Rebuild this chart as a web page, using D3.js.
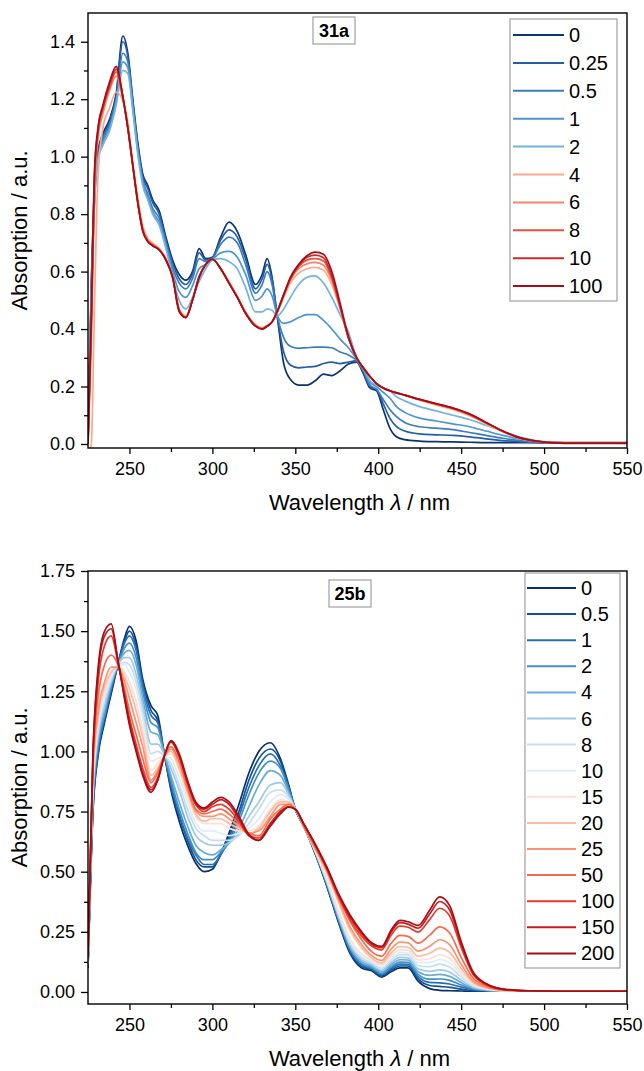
<!DOCTYPE html>
<html>
<head>
<meta charset="utf-8">
<script src="https://cdn.jsdelivr.net/npm/d3@7"></script>
<style>
body { margin: 0; background: #fff; }
svg text { font-family: "Liberation Sans", Arial, sans-serif; fill: #000; }
</style>
</head>
<body>
<svg id="chart" width="644" height="1071"></svg>
<script>
// ---------- panel 31a (top) ----------
var wlA = [225, 227, 229, 231, 234, 238, 242, 246, 249, 252,
  255, 258, 261, 264, 268, 272, 276, 280, 284, 288,
  292, 296, 300, 305, 310, 315, 320, 326, 330, 333,
  336, 339, 343, 347, 352, 357, 362, 367, 372, 377,
  382, 387, 391, 395, 399, 403, 407, 411, 416, 425,
  435, 445, 455, 465, 475, 485, 495, 505, 520, 550];

var labelsA = ["0", "0.25", "0.5", "1", "2", "4", "6", "8", "10", "100"];
var colorsA = ["#0c3473", "#245ea6", "#3a7dc0", "#4d95d0", "#74b3e0", "#fba88c", "#f6846a", "#e9503e", "#cf2a28", "#a30f16"];

var a0 = [0.02, 0.55, 0.90, 1.02, 1.08, 1.13, 1.22, 1.42, 1.36, 1.20,
  1.05, 0.94, 0.90, 0.85, 0.81, 0.72, 0.64, 0.59, 0.57, 0.60,
  0.68, 0.645, 0.65, 0.72, 0.772, 0.74, 0.66, 0.555, 0.59, 0.645,
  0.58, 0.45, 0.28, 0.225, 0.205, 0.205, 0.22, 0.243, 0.238, 0.255,
  0.278, 0.285, 0.245, 0.195, 0.185, 0.12, 0.055, 0.025, 0.015, 0.01,
  0.008, 0.007, 0.006, 0.005, 0.005, 0.005, 0.005, 0.005, 0.005, 0.005];
var a025 = [0.02, 0.55, 0.88, 1.01, 1.07, 1.12, 1.21, 1.40, 1.35, 1.19,
  1.04, 0.93, 0.89, 0.84, 0.80, 0.71, 0.63, 0.575, 0.555, 0.59,
  0.665, 0.64, 0.648, 0.71, 0.745, 0.72, 0.645, 0.54, 0.575, 0.625,
  0.57, 0.45, 0.32, 0.275, 0.265, 0.268, 0.27, 0.28, 0.285, 0.28,
  0.285, 0.29, 0.25, 0.20, 0.19, 0.14, 0.09, 0.06, 0.045, 0.035,
  0.032, 0.03, 0.025, 0.018, 0.012, 0.008, 0.005, 0.004, 0.004, 0.004];
var a05 = [0.02, 0.50, 0.86, 1.00, 1.06, 1.11, 1.20, 1.36, 1.33, 1.18,
  1.03, 0.92, 0.87, 0.82, 0.785, 0.70, 0.615, 0.56, 0.54, 0.575,
  0.645, 0.635, 0.645, 0.695, 0.72, 0.70, 0.625, 0.525, 0.555, 0.60,
  0.555, 0.45, 0.37, 0.34, 0.333, 0.335, 0.337, 0.337, 0.335, 0.32,
  0.31, 0.29, 0.255, 0.205, 0.19, 0.155, 0.12, 0.095, 0.075, 0.06,
  0.055, 0.05, 0.04, 0.03, 0.02, 0.012, 0.006, 0.004, 0.004, 0.004];
var a1 = [0.02, 0.50, 0.85, 0.99, 1.05, 1.10, 1.19, 1.33, 1.31, 1.17,
  1.02, 0.91, 0.86, 0.81, 0.77, 0.69, 0.60, 0.53, 0.51, 0.55,
  0.61, 0.625, 0.642, 0.665, 0.67, 0.65, 0.59, 0.50, 0.515, 0.54,
  0.515, 0.45, 0.42, 0.425, 0.44, 0.45, 0.45, 0.43, 0.40, 0.365,
  0.335, 0.295, 0.26, 0.215, 0.20, 0.18, 0.16, 0.13, 0.11, 0.09,
  0.08, 0.07, 0.06, 0.045, 0.03, 0.018, 0.009, 0.005, 0.004, 0.004];
var a2 = [0.02, 0.50, 0.85, 0.99, 1.04, 1.09, 1.18, 1.30, 1.29, 1.16,
  1.01, 0.90, 0.85, 0.80, 0.76, 0.68, 0.58, 0.50, 0.47, 0.51,
  0.565, 0.61, 0.64, 0.645, 0.635, 0.61, 0.545, 0.46, 0.46, 0.47,
  0.465, 0.445, 0.47, 0.51, 0.555, 0.58, 0.585, 0.56, 0.51, 0.45,
  0.39, 0.30, 0.265, 0.22, 0.205, 0.195, 0.185, 0.165, 0.15, 0.13,
  0.115, 0.10, 0.085, 0.065, 0.045, 0.025, 0.012, 0.006, 0.004, 0.004];
var a4 = [-0.05, 0.0, 0.5, 0.93, 1.10, 1.17, 1.225, 1.195, 1.12, 0.98,
  0.86, 0.76, 0.715, 0.70, 0.68, 0.645, 0.585, 0.47, 0.445, 0.505,
  0.585, 0.625, 0.642, 0.61, 0.565, 0.515, 0.46, 0.415, 0.405, 0.412,
  0.425, 0.455, 0.51, 0.56, 0.595, 0.61, 0.615, 0.605, 0.555, 0.47,
  0.37, 0.30, 0.265, 0.235, 0.21, 0.195, 0.185, 0.178, 0.17, 0.152,
  0.135, 0.12, 0.098, 0.07, 0.042, 0.02, 0.009, 0.005, 0.004, 0.004];
var a6 = [0.0, 0.35, 0.90, 1.06, 1.15, 1.23, 1.28, 1.20, 1.10, 0.97,
  0.845, 0.75, 0.71, 0.695, 0.678, 0.642, 0.582, 0.467, 0.442, 0.502,
  0.582, 0.625, 0.643, 0.61, 0.562, 0.512, 0.457, 0.412, 0.402, 0.41,
  0.425, 0.458, 0.515, 0.57, 0.61, 0.627, 0.632, 0.622, 0.568, 0.475,
  0.37, 0.30, 0.265, 0.235, 0.21, 0.195, 0.185, 0.178, 0.17, 0.154,
  0.138, 0.123, 0.102, 0.073, 0.044, 0.021, 0.01, 0.005, 0.004, 0.004];
var a8 = [0.0, 0.40, 0.93, 1.08, 1.17, 1.24, 1.295, 1.205, 1.10, 0.97,
  0.842, 0.745, 0.707, 0.692, 0.676, 0.641, 0.581, 0.465, 0.441, 0.501,
  0.581, 0.625, 0.643, 0.61, 0.561, 0.511, 0.456, 0.411, 0.401, 0.41,
  0.425, 0.459, 0.518, 0.574, 0.618, 0.64, 0.645, 0.637, 0.578, 0.478,
  0.37, 0.30, 0.265, 0.235, 0.21, 0.195, 0.185, 0.178, 0.17, 0.155,
  0.139, 0.124, 0.103, 0.074, 0.045, 0.022, 0.01, 0.005, 0.004, 0.004];
var a10 = [0.0, 0.43, 0.95, 1.09, 1.17, 1.25, 1.305, 1.21, 1.10, 0.97,
  0.84, 0.745, 0.705, 0.69, 0.675, 0.64, 0.58, 0.465, 0.44, 0.50,
  0.58, 0.625, 0.643, 0.61, 0.56, 0.51, 0.455, 0.41, 0.40, 0.41,
  0.425, 0.46, 0.52, 0.575, 0.62, 0.65, 0.657, 0.648, 0.585, 0.48,
  0.37, 0.30, 0.265, 0.235, 0.21, 0.195, 0.185, 0.178, 0.17, 0.155,
  0.14, 0.125, 0.104, 0.075, 0.045, 0.022, 0.01, 0.005, 0.004, 0.004];
var a100 = [0.0, 0.45, 0.96, 1.10, 1.18, 1.26, 1.314, 1.21, 1.10, 0.97,
  0.84, 0.74, 0.705, 0.69, 0.675, 0.64, 0.58, 0.46, 0.44, 0.50,
  0.58, 0.625, 0.643, 0.61, 0.56, 0.51, 0.455, 0.41, 0.40, 0.41,
  0.425, 0.46, 0.52, 0.58, 0.625, 0.655, 0.668, 0.66, 0.60, 0.49,
  0.375, 0.30, 0.265, 0.235, 0.21, 0.195, 0.185, 0.178, 0.17, 0.155,
  0.14, 0.125, 0.105, 0.075, 0.045, 0.022, 0.01, 0.004, 0.002, 0.002];

// ---------- panel 25b (bottom) ----------
var wlB = [225, 228, 231, 235, 239, 243, 247, 250, 254, 258,
  263, 267, 271, 275, 280, 285, 290, 295, 300, 305,
  310, 316, 322, 328, 335, 341, 346, 350, 355, 362,
  369, 376, 383, 390, 396, 402, 408, 413, 418, 424,
  431, 437, 443, 450, 457, 465, 475, 490, 510, 550];

var labelsB = ["0", "0.5", "1", "2", "4", "6", "8", "10", "15", "20", "25", "50", "100", "150", "200"];
var colorsB = ["#08306b", "#0f519b", "#2470b4", "#4090c6", "#6aabd7", "#9dcae4", "#c6def0", "#deedf8",
  "#fde0d3", "#fcbba2", "#fb9373", "#f96a4b", "#e83a2c", "#c9191e", "#a30f15"];

var b0 = [0.10, 0.75, 0.98, 1.12, 1.24, 1.36, 1.47, 1.52, 1.46, 1.30,
  1.19, 1.15, 0.99, 0.84, 0.71, 0.61, 0.535, 0.50, 0.51, 0.575,
  0.66, 0.78, 0.91, 1.0, 1.036, 0.97, 0.86, 0.76, 0.69, 0.575,
  0.44, 0.29, 0.16, 0.10, 0.088, 0.062, 0.085, 0.10, 0.10, 0.045,
  0.014, 0.007, 0.005, 0.004, 0.003, 0.003, 0.003, 0.003, 0.003, 0.003];
var b05 = [0.10, 0.76, 0.99, 1.13, 1.25, 1.36, 1.46, 1.50, 1.44, 1.29,
  1.17, 1.13, 0.99, 0.85, 0.73, 0.63, 0.55, 0.52, 0.52, 0.57,
  0.645, 0.75, 0.88, 0.97, 1.01, 0.96, 0.85, 0.76, 0.69, 0.577,
  0.443, 0.295, 0.166, 0.106, 0.093, 0.067, 0.092, 0.108, 0.108, 0.054,
  0.027, 0.023, 0.019, 0.012, 0.006, 0.004, 0.003, 0.003, 0.003, 0.003];
var b1 = [0.10, 0.77, 1.00, 1.14, 1.26, 1.36, 1.45, 1.48, 1.42, 1.27,
  1.15, 1.12, 0.99, 0.86, 0.74, 0.64, 0.57, 0.53, 0.53, 0.57,
  0.63, 0.73, 0.85, 0.94, 0.99, 0.94, 0.85, 0.76, 0.69, 0.578,
  0.446, 0.30, 0.173, 0.112, 0.097, 0.072, 0.099, 0.116, 0.115, 0.064,
  0.040, 0.038, 0.033, 0.020, 0.010, 0.006, 0.004, 0.003, 0.003, 0.003];
var b2 = [0.11, 0.79, 1.02, 1.15, 1.27, 1.36, 1.43, 1.45, 1.39, 1.25,
  1.12, 1.10, 0.99, 0.88, 0.76, 0.66, 0.58, 0.55, 0.55, 0.58,
  0.62, 0.71, 0.82, 0.91, 0.96, 0.93, 0.84, 0.76, 0.69, 0.58,
  0.45, 0.304, 0.179, 0.118, 0.102, 0.077, 0.106, 0.124, 0.123, 0.073,
  0.053, 0.054, 0.048, 0.029, 0.013, 0.007, 0.004, 0.003, 0.003, 0.003];
var b4 = [0.11, 0.81, 1.04, 1.17, 1.28, 1.36, 1.41, 1.42, 1.36, 1.22,
  1.08, 1.07, 0.99, 0.90, 0.79, 0.69, 0.61, 0.58, 0.57, 0.59,
  0.62, 0.68, 0.77, 0.86, 0.92, 0.90, 0.83, 0.76, 0.69, 0.582,
  0.454, 0.31, 0.187, 0.126, 0.108, 0.084, 0.115, 0.134, 0.133, 0.084,
  0.069, 0.073, 0.065, 0.039, 0.017, 0.008, 0.005, 0.003, 0.003, 0.003];
var b6 = [0.12, 0.83, 1.06, 1.19, 1.29, 1.36, 1.39, 1.39, 1.32, 1.19,
  1.03, 1.03, 0.99, 0.93, 0.84, 0.73, 0.65, 0.62, 0.61, 0.61,
  0.62, 0.66, 0.73, 0.79, 0.86, 0.87, 0.82, 0.76, 0.69, 0.584,
  0.458, 0.316, 0.195, 0.133, 0.114, 0.09, 0.124, 0.144, 0.142, 0.096,
  0.086, 0.092, 0.083, 0.049, 0.021, 0.01, 0.005, 0.003, 0.003, 0.003];
var b8 = [0.12, 0.85, 1.08, 1.21, 1.30, 1.36, 1.37, 1.36, 1.29, 1.16,
  0.99, 1.0, 0.98, 0.95, 0.86, 0.76, 0.68, 0.65, 0.63, 0.63,
  0.63, 0.65, 0.70, 0.76, 0.83, 0.84, 0.81, 0.76, 0.69, 0.586,
  0.462, 0.324, 0.205, 0.142, 0.121, 0.098, 0.134, 0.155, 0.154, 0.11,
  0.105, 0.116, 0.104, 0.062, 0.026, 0.012, 0.006, 0.004, 0.003, 0.003];
var b10 = [0.12, 0.87, 1.10, 1.23, 1.31, 1.36, 1.36, 1.33, 1.26, 1.13,
  0.96, 0.97, 0.98, 0.97, 0.89, 0.79, 0.70, 0.67, 0.67, 0.66,
  0.65, 0.66, 0.68, 0.72, 0.79, 0.82, 0.80, 0.76, 0.69, 0.588,
  0.466, 0.33, 0.213, 0.15, 0.127, 0.104, 0.143, 0.165, 0.163, 0.122,
  0.122, 0.135, 0.122, 0.072, 0.030, 0.014, 0.006, 0.004, 0.003, 0.003];
var b15 = [0.13, 0.89, 1.12, 1.25, 1.32, 1.35, 1.33, 1.29, 1.21, 1.09,
  0.92, 0.95, 0.98, 0.99, 0.92, 0.81, 0.73, 0.70, 0.70, 0.70,
  0.68, 0.67, 0.67, 0.69, 0.76, 0.80, 0.79, 0.76, 0.69, 0.59,
  0.47, 0.336, 0.221, 0.157, 0.132, 0.111, 0.152, 0.175, 0.173, 0.133,
  0.138, 0.154, 0.14, 0.082, 0.034, 0.015, 0.006, 0.004, 0.003, 0.003];
var b20 = [0.13, 0.91, 1.14, 1.27, 1.33, 1.35, 1.31, 1.26, 1.17, 1.06,
  0.90, 0.93, 0.98, 1.0, 0.93, 0.83, 0.74, 0.71, 0.72, 0.72,
  0.70, 0.68, 0.66, 0.68, 0.75, 0.79, 0.79, 0.76, 0.69, 0.593,
  0.496, 0.374, 0.257, 0.183, 0.141, 0.12, 0.164, 0.189, 0.186, 0.149,
  0.161, 0.182, 0.165, 0.097, 0.04, 0.017, 0.007, 0.004, 0.003, 0.003];
var b25 = [0.13, 0.93, 1.16, 1.29, 1.35, 1.35, 1.29, 1.22, 1.12, 1.02,
  0.88, 0.92, 0.98, 1.01, 0.95, 0.84, 0.75, 0.73, 0.73, 0.74,
  0.72, 0.69, 0.66, 0.67, 0.73, 0.78, 0.78, 0.76, 0.69, 0.597,
  0.503, 0.385, 0.271, 0.196, 0.151, 0.131, 0.18, 0.207, 0.204, 0.17,
  0.19, 0.217, 0.197, 0.115, 0.047, 0.02, 0.008, 0.004, 0.003, 0.003];
var b50 = [0.14, 0.95, 1.22, 1.36, 1.40, 1.36, 1.26, 1.17, 1.07, 0.97,
  0.87, 0.91, 0.98, 1.02, 0.96, 0.85, 0.76, 0.74, 0.75, 0.76,
  0.74, 0.70, 0.66, 0.65, 0.72, 0.76, 0.78, 0.76, 0.69, 0.602,
  0.514, 0.402, 0.294, 0.217, 0.168, 0.149, 0.204, 0.235, 0.231, 0.203,
  0.236, 0.271, 0.246, 0.144, 0.059, 0.025, 0.009, 0.004, 0.003, 0.003];
var b100 = [0.14, 0.97, 1.28, 1.44, 1.48, 1.37, 1.24, 1.14, 1.03, 0.93,
  0.85, 0.89, 0.98, 1.04, 0.98, 0.87, 0.78, 0.75, 0.77, 0.78,
  0.76, 0.71, 0.65, 0.64, 0.70, 0.75, 0.77, 0.76, 0.70, 0.61,
  0.51, 0.396, 0.301, 0.232, 0.191, 0.175, 0.239, 0.274, 0.269, 0.249,
  0.301, 0.348, 0.317, 0.185, 0.075, 0.031, 0.011, 0.005, 0.003, 0.003];
var b150 = [0.15, 0.99, 1.32, 1.48, 1.51, 1.38, 1.23, 1.12, 1.01, 0.91,
  0.84, 0.88, 0.98, 1.04, 0.98, 0.87, 0.78, 0.76, 0.78, 0.80,
  0.78, 0.72, 0.65, 0.63, 0.70, 0.75, 0.77, 0.76, 0.70, 0.613,
  0.516, 0.404, 0.312, 0.243, 0.199, 0.184, 0.251, 0.288, 0.282, 0.265,
  0.324, 0.376, 0.342, 0.20, 0.081, 0.033, 0.012, 0.005, 0.003, 0.003];
var b200 = [0.15, 1.00, 1.34, 1.50, 1.53, 1.38, 1.22, 1.11, 1.00, 0.90,
  0.83, 0.88, 0.98, 1.045, 0.99, 0.88, 0.79, 0.765, 0.79, 0.809,
  0.79, 0.73, 0.655, 0.63, 0.69, 0.74, 0.768, 0.76, 0.70, 0.615,
  0.52, 0.41, 0.32, 0.25, 0.205, 0.19, 0.26, 0.298, 0.292, 0.277,
  0.34, 0.395, 0.36, 0.21, 0.085, 0.035, 0.012, 0.005, 0.003, 0.003];

var xMajor = [250, 300, 350, 400, 450, 500, 550];
var xMinor = [275, 325, 375, 425, 475, 525];

var svg = d3.select("#chart");

function drawPanel(p) {
  var x = d3.scaleLinear().domain([225, 550]).range([p.left, p.right]);
  var y = d3.scaleLinear().domain(p.yDomain).range([p.bottom, p.top]);
  var g = svg.append("g");

  g.append("clipPath").attr("id", "clip" + p.id)
    .append("rect")
    .attr("x", p.left).attr("y", p.top)
    .attr("width", p.right - p.left).attr("height", p.bottom - p.top);

  var line = d3.line()
    .x(function (d, i) { return x(p.wl[i]); })
    .y(function (d) { return y(d); })
    .curve(d3.curveMonotoneX);

  var curves = g.append("g").attr("clip-path", "url(#clip" + p.id + ")");
  p.values.forEach(function (vals, k) {
    curves.append("path")
      .attr("d", line(vals))
      .attr("fill", "none")
      .attr("stroke", p.colors[k])
      .attr("stroke-width", 1.7)
      .attr("stroke-linejoin", "round");
  });

  // axes (ticks outward)
  var xAx = g.append("g").attr("transform", "translate(0," + p.bottom + ")")
    .call(d3.axisBottom(x).tickValues(xMajor).tickSize(6).tickPadding(8).tickFormat(d3.format("d")));
  g.append("g").attr("transform", "translate(0," + p.bottom + ")")
    .call(d3.axisBottom(x).tickValues(xMinor).tickSize(4).tickFormat(""));
  var yAx = g.append("g").attr("transform", "translate(" + p.left + ",0)")
    .call(d3.axisLeft(y).tickValues(p.yMajor).tickSize(7).tickPadding(6).tickFormat(d3.format(p.yFmt)));
  g.append("g").attr("transform", "translate(" + p.left + ",0)")
    .call(d3.axisLeft(y).tickValues(p.yMinor).tickSize(4).tickFormat(""));

  g.selectAll(".domain").remove();
  g.selectAll(".tick line").attr("stroke", "#000").attr("stroke-width", 1.3);
  g.selectAll(".tick text")
    .attr("font-size", 18)
    .style("font-family", "'Liberation Sans', Arial, sans-serif")
    .attr("fill", "#000");

  // frame
  g.append("rect")
    .attr("x", p.left).attr("y", p.top)
    .attr("width", p.right - p.left).attr("height", p.bottom - p.top)
    .attr("fill", "none").attr("stroke", "#000").attr("stroke-width", 1.4);

  // axis titles
  var xt = g.append("text")
    .attr("x", (p.left + p.right) / 2 + 2)
    .attr("y", p.bottom + 62)
    .attr("text-anchor", "middle")
    .attr("font-size", 22);
  xt.append("tspan").text("Wavelength ");
  xt.append("tspan").attr("font-style", "italic").text("λ");
  xt.append("tspan").text(" / nm");

  g.append("text")
    .attr("transform", "translate(27," + ((p.top + p.bottom) / 2) + ") rotate(-90)")
    .attr("text-anchor", "middle")
    .attr("font-size", 22)
    .text("Absorption / a.u.");

  // compound label box
  var tb = p.titleBox;
  g.append("rect")
    .attr("x", tb[0]).attr("y", tb[1]).attr("width", tb[2]).attr("height", tb[3])
    .attr("fill", "#fff").attr("stroke", "#a0a0a0").attr("stroke-width", 1.2);
  g.append("text")
    .attr("x", tb[0] + tb[2] / 2).attr("y", tb[1] + tb[3] / 2 + 6.5)
    .attr("text-anchor", "middle")
    .attr("font-size", 18).attr("font-weight", "bold")
    .text(p.title);

  // legend
  var L = p.legend;
  g.append("rect")
    .attr("x", L.x).attr("y", L.y).attr("width", L.w).attr("height", L.h)
    .attr("fill", "#fff").attr("stroke", "#a0a0a0").attr("stroke-width", 1.2);
  var items = g.selectAll(".leg" + p.id)
    .data(p.labels)
    .enter().append("g")
    .attr("transform", function (d, i) { return "translate(0," + (L.first + i * L.step) + ")"; });
  items.append("line")
    .attr("x1", L.x0).attr("x2", L.x1)
    .attr("stroke", function (d, i) { return p.colors[i]; })
    .attr("stroke-width", 2);
  items.append("text")
    .attr("x", L.tx).attr("y", 7)
    .attr("font-size", 20)
    .text(function (d) { return d; });
}

drawPanel({
  id: "A",
  wl: wlA,
  values: [a0, a025, a05, a1, a2, a4, a6, a8, a10, a100],
  labels: labelsA,
  colors: colorsA,
  left: 88, right: 627, top: 13, bottom: 448,
  yDomain: [-0.014, 1.5],
  yMajor: [0, 0.2, 0.4, 0.6, 0.8, 1.0, 1.2, 1.4],
  yMinor: [0.1, 0.3, 0.5, 0.7, 0.9, 1.1, 1.3],
  yFmt: ".1f",
  title: "31a",
  titleBox: [313, 17, 42, 27],
  legend: { x: 510, y: 19, w: 107, h: 282, first: 35, step: 27.9, x0: 513, x1: 564, tx: 569 }
});

drawPanel({
  id: "B",
  wl: wlB,
  values: [b0, b05, b1, b2, b4, b6, b8, b10, b15, b20, b25, b50, b100, b150, b200],
  labels: labelsB,
  colors: colorsB,
  left: 88, right: 627, top: 571, bottom: 1004,
  yDomain: [-0.05, 1.75],
  yMajor: [0, 0.25, 0.5, 0.75, 1.0, 1.25, 1.5, 1.75],
  yMinor: [0.125, 0.375, 0.625, 0.875, 1.125, 1.375, 1.625],
  yFmt: ".2f",
  title: "25b",
  titleBox: [329, 580, 42, 27],
  legend: { x: 525, y: 573, w: 95, h: 395, first: 588, step: 26.1, x0: 527, x1: 576, tx: 581 }
});
</script>
</body>
</html>
